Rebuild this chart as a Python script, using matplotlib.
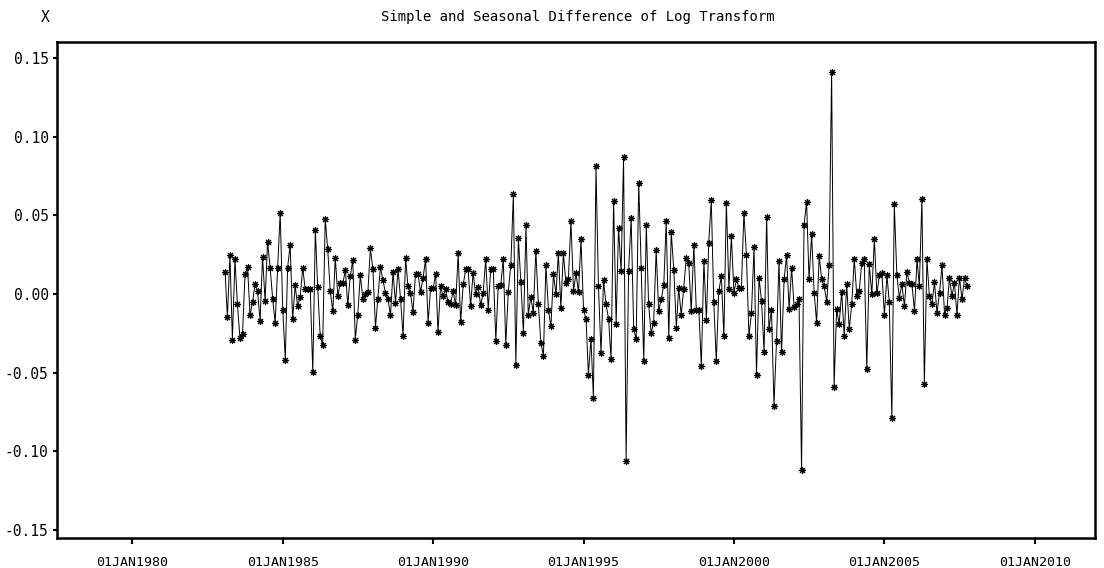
import numpy as np
import matplotlib
matplotlib.use('Agg')
import matplotlib.pyplot as plt
import pandas as pd

# simple + seasonal difference of log series, monthly from Feb 1983
diff_a = [0.0141, -0.0148, 0.0245, -0.0290, 0.0220, -0.0067, -0.0282, -0.0252, 0.0124, 0.0173,
          -0.0135, -0.0050, 0.0065, 0.0018, -0.0173, 0.0237, -0.0046, 0.0330, 0.0167, -0.0031,
          -0.0183, 0.0167, 0.0517, -0.0099, -0.0417, 0.0167, 0.0311, -0.0162, 0.0054, -0.0078,
          -0.0018, 0.0167, 0.0029, 0.0033, 0.0029, -0.0498, 0.0406, 0.0046, -0.0269, -0.0322,
          0.0479, 0.0283, 0.0018, -0.0110, 0.0231, -0.0014, 0.0071]
diff_b = [0.0067, 0.0152, -0.0073, 0.0113, 0.0213, -0.0290, -0.0131, 0.0120, -0.0035, -0.0003,
          0.0014, 0.0290, 0.0156, -0.0215, -0.0029, 0.0173, 0.0088, 0.0008, -0.0031, -0.0137,
          0.0139, -0.0056, 0.0156, -0.0029, -0.0269, 0.0228, 0.0050, 0.0008, -0.0116, 0.0129,
          0.0129, 0.0014, 0.0103, 0.0220, -0.0183, 0.0035, 0.0035, 0.0129, -0.0243, 0.0050,
          -0.0014, 0.0029, -0.0052, -0.0062, 0.0018, -0.0073, 0.0258, -0.0180, 0.0061, 0.0156]
diff_c = [0.0161, -0.0078, 0.0135, -0.0003, 0.0046, -0.0071, 0.0008, 0.0220, -0.0099, 0.0161,
          0.0161, -0.0296, 0.0050, 0.0056, 0.0224, -0.0322, 0.0011, 0.0182, 0.0634, -0.0449,
          0.0354, 0.0075, -0.0247, 0.0436, -0.0131, -0.0020, -0.0120, 0.0273, -0.0061, -0.0311,
          -0.0392, 0.0183, -0.0103, -0.0205, 0.0129, -0.0003, 0.0262, -0.0088, 0.0262, 0.0067,
          0.0092, 0.0464, 0.0018, 0.0131, 0.0011, 0.0347, -0.0099]
diff_d = [-0.0162, -0.0513, -0.0285, -0.0660, 0.0814, 0.0050, -0.0375, 0.0086, -0.0067, -0.0158,
          -0.0413, 0.0591, -0.0188, 0.0422, 0.0145, 0.0868, -0.1060, 0.0145, 0.0485, -0.0226,
          -0.0285, 0.0708, 0.0167, -0.0428, 0.0436, -0.0067, -0.0247, -0.0183, 0.0277, -0.0110,
          -0.0035, 0.0056, 0.0464, -0.0279, 0.0394, 0.0150, -0.0215, 0.0039, -0.0135, 0.0033,
          0.0231, 0.0194, -0.0110, 0.0311, -0.0099, -0.0099, -0.0460, 0.0209, -0.0167, 0.0326,
          0.0596, -0.0052, -0.0428]
diff_e = [0.0018, 0.0113, -0.0269, 0.0581, 0.0029, 0.0368, 0.0008, 0.0092, 0.0039, 0.0039,
          0.0517, 0.0245, -0.0269, -0.0120, 0.0301, -0.0513, 0.0103, -0.0046, -0.0371, 0.0492,
          -0.0226, -0.0099, -0.0710, -0.0301, 0.0209, -0.0371, 0.0092, 0.0245, -0.0094, 0.0167,
          -0.0082, -0.0067, -0.0031, -0.1120, 0.0438, 0.0585, 0.0092, 0.0379, 0.0008, -0.0183,
          0.0241, 0.0092, 0.0050, -0.0052, 0.0182, 0.1409, -0.0590, -0.0094, -0.0194, 0.0014]
diff_f = [-0.0269, 0.0061, -0.0226, -0.0067, 0.0224, -0.0014, 0.0018, 0.0199, 0.0220, -0.0476,
          0.0188, -0.0003, 0.0352, 0.0003, 0.0118, 0.0135, -0.0135, 0.0118, -0.0052, -0.0790,
          0.0570, 0.0118, -0.0024, 0.0061, -0.0078, 0.0139, 0.0071, 0.0061, -0.0110, 0.0220,
          0.0050, 0.0605, -0.0570, 0.0220, -0.0014, -0.0067, 0.0075, -0.0120, 0.0008, 0.0182,
          -0.0131, -0.0088, 0.0103, -0.0014, 0.0071, -0.0131, 0.0103, -0.0035, 0.0103, 0.0050]

tick_years = [1980, 1985, 1990, 1995, 2000, 2005, 2010]
y_ticks = [-0.15, -0.10, -0.05, 0.00, 0.05, 0.10, 0.15]

x = np.concatenate([diff_a, diff_b, diff_c, diff_d, diff_e, diff_f])
dates = pd.date_range('1983-02-01', periods=len(x), freq='MS')

plt.rcParams['font.family'] = 'DejaVu Sans Mono'
plt.rcParams['axes.unicode_minus'] = False

fig = plt.figure(figsize=(11.04, 5.68), dpi=100)
ax = fig.add_axes([0.0516, 0.0533, 0.9402, 0.8722])

# thin line with small asterisk symbols at each month
ax.plot(dates, x, color='black', lw=0.7, marker=(8, 2, 0), ms=5, mew=0.8,
        mec='black', mfc='black')

ax.set_xlim(pd.Timestamp('1977-07-01'), pd.Timestamp('2012-01-01'))
ax.set_ylim(-0.155, 0.160)

xt = [pd.Timestamp(year=y, month=1, day=1) for y in tick_years]
ax.set_xticks(xt)
ax.set_xticklabels(['01JAN%d' % y for y in tick_years], fontsize=9.5)
ax.set_yticks(y_ticks)
ax.set_yticklabels(['%.2f' % v for v in y_ticks], fontsize=10.5)

ax.tick_params(axis='x', direction='out', length=4, width=1.5, pad=9)
ax.tick_params(axis='y', direction='out', length=3, width=1.5, pad=3)
for s in ax.spines.values():
    s.set_linewidth(1.8)

fig.text(578 / 1104, 1 - 17 / 568, 'Simple and Seasonal Difference of Log Transform',
         ha='center', va='center', fontsize=10)
fig.text(45 / 1104, 1 - 18 / 568, 'X', ha='center', va='center', fontsize=10.5)

fig.savefig('out.png', dpi=100)
